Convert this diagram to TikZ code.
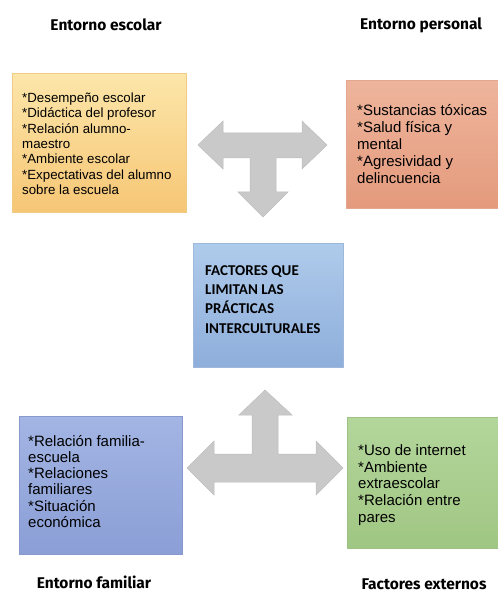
\documentclass[tikz,border=0pt]{standalone}
\usepackage{fontspec}
\setmainfont{Liberation Sans}
\newfontfamily\headfont{Fira Sans}
\newfontfamily\calib{Carlito}
\definecolor{yelTop}{HTML}{FCE6AA}
\definecolor{yelBot}{HTML}{F6C675}
\definecolor{yelEdge}{HTML}{EFCB84}
\definecolor{oraTop}{HTML}{EEB59C}
\definecolor{oraBot}{HTML}{E49A7C}
\definecolor{oraEdge}{HTML}{E2A78E}
\definecolor{cenTop}{HTML}{AFCBEB}
\definecolor{cenBot}{HTML}{8EAEDB}
\definecolor{cenEdge}{HTML}{9DB8DA}
\definecolor{bluTop}{HTML}{A3B5E3}
\definecolor{bluBot}{HTML}{8B9ED6}
\definecolor{bluEdge}{HTML}{8799CF}
\definecolor{grnTop}{HTML}{B3D69B}
\definecolor{grnBot}{HTML}{A0C683}
\definecolor{grnEdge}{HTML}{9DC283}
\definecolor{arrFill}{HTML}{C9C9C9}
\definecolor{arrEdge}{HTML}{BDBDBD}
\newcommand\topstrut{\rule{0pt}{0.75em}}
\begin{document}
\begin{tikzpicture}[x=1pt,y=-1pt,
  boxshape/.style={rectangle, inner sep=0pt, line width=0.6pt, anchor=north west},
  bodytext/.style={anchor=north west, inner sep=0pt, align=left, text=black},
  headtext/.style={inner sep=0pt, font=\headfont\bfseries\fontsize{15.5}{17}\selectfont, text=black},
  blockarrow/.style={fill=arrFill, draw=arrEdge, line width=0.5pt, line join=miter}
]
\useasboundingbox (0,0) rectangle (497,593);
% headings
\node[headtext] (hEsc) at (106,25) {Entorno escolar};
\node[headtext] (hPer) at (421,25) {Entorno personal};
\node[headtext] (hFam) at (94,582) {Entorno familiar};
\node[headtext] (hExt) at (424,584) {Factores externos};
% boxes
\node[boxshape, draw=yelEdge, top color=yelTop, bottom color=yelBot, minimum width=174pt, minimum height=139pt] (bEsc) at (12,73) {};
\node[boxshape, draw=oraEdge, top color=oraTop, bottom color=oraBot, minimum width=153pt, minimum height=128pt] (bPer) at (346,80) {};
\node[boxshape, draw=cenEdge, top color=cenTop, bottom color=cenBot, minimum width=150pt, minimum height=124pt] (bCen) at (193,243) {};
\node[boxshape, draw=bluEdge, top color=bluTop, bottom color=bluBot, minimum width=163pt, minimum height=138pt] (bFam) at (19,416) {};
\node[boxshape, draw=grnEdge, top color=grnTop, bottom color=grnBot, minimum width=152pt, minimum height=131pt] (bExt) at (347,417) {};
% texts
\node[bodytext, font=\fontsize{13.3}{15.3}\selectfont] (tEsc) at (22,92.5) {\topstrut*Desempeño escolar\\*Didáctica del profesor\\*Relación alumno-\\maestro\\*Ambiente escolar\\*Expectativas del alumno\\sobre la escuela};
\node[bodytext, font=\fontsize{15}{17}\selectfont] (tPer) at (357,103.75) {\topstrut*Sustancias tóxicas\\*Salud física y\\mental\\*Agresividad y\\delincuencia};
\node[bodytext, font=\calib\bfseries\fontsize{15}{19.3}\selectfont] (tCen) at (205,263.75) {\topstrut FACTORES QUE\\LIMITAN LAS\\PRÁCTICAS\\INTERCULTURALES};
\node[bodytext, font=\fontsize{15}{16.2}\selectfont] (tFam) at (28,434.75) {\topstrut*Relación familia-\\escuela\\*Relaciones\\familiares\\*Situación\\económica};
\node[bodytext, font=\fontsize{15}{16.8}\selectfont] (tExt) at (358,443.75) {\topstrut*Uso de internet\\*Ambiente\\extraescolar\\*Relación entre\\pares};
% top T arrow
\draw[blockarrow] (198,145) -- (223,121) -- (223,133) -- (302,133) -- (302,121) -- (327,145)
  -- (302,169) -- (302,158) -- (276,158) -- (276,192) -- (288,192) -- (263,217)
  -- (238,192) -- (250,192) -- (250,158) -- (223,158) -- (223,169) -- cycle;
% bottom inverted T arrow
\draw[blockarrow] (265,390) -- (292,415) -- (278,415) -- (278,454) -- (316,454) -- (316,441)
  -- (343,468) -- (316,495) -- (316,482) -- (214,482) -- (214,495) -- (187,468)
  -- (214,441) -- (214,454) -- (252,454) -- (252,415) -- (239,415) -- cycle;
\end{tikzpicture}
\end{document}
